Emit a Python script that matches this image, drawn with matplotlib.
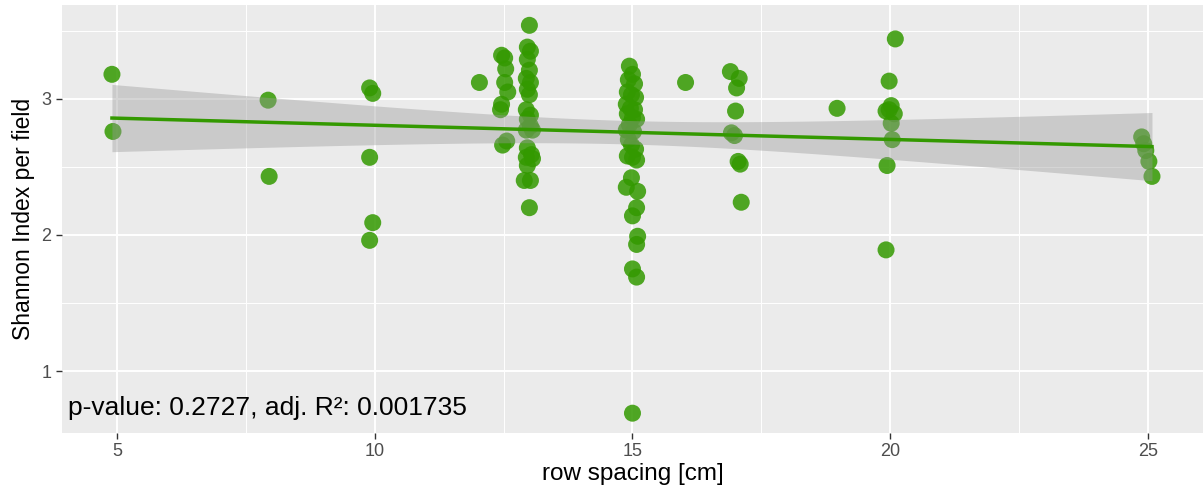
import numpy as np
import matplotlib.pyplot as plt

plt.rcParams['font.family'] = ['Liberation Sans', 'DejaVu Sans']

# row spacing [cm] (with the small jitter seen in the picture) and Shannon index
spacing_5 = [4.90, 4.92]
shannon_5 = [3.18, 2.76]
spacing_8 = [7.93, 7.95]
shannon_8 = [2.99, 2.43]
spacing_10 = [9.90, 9.96, 9.90, 9.96, 9.90]
shannon_10 = [3.08, 3.04, 2.57, 2.09, 1.96]
spacing_12 = [12.03, 12.46, 12.52, 12.54, 12.52, 12.58, 12.46, 12.44, 12.56, 12.48]
shannon_12 = [3.12, 3.32, 3.30, 3.22, 3.12, 3.05, 2.96, 2.92, 2.69, 2.66]
spacing_13 = [13.00, 12.96, 13.02, 12.96, 13.00, 12.94, 13.02, 12.96, 13.00, 12.94,
              13.02, 12.96, 13.02, 12.94, 13.06, 12.96, 13.04, 12.94, 13.06, 12.96,
              12.90, 13.02, 13.00]
shannon_13 = [3.54, 3.38, 3.35, 3.29, 3.21, 3.15, 3.12, 3.07, 3.03, 2.92,
              2.88, 2.85, 2.80, 2.77, 2.77, 2.64, 2.59, 2.57, 2.56, 2.51,
              2.40, 2.40, 2.20]
spacing_15 = [14.94, 15.00, 14.92, 15.04, 14.90, 14.98, 15.06, 14.88, 14.96, 15.04,
              14.90, 15.00, 15.08, 14.94, 14.88, 15.02, 14.92, 14.98, 15.06, 14.90,
              15.00, 15.08, 14.98, 14.88, 15.10, 15.08, 15.00, 15.10, 15.08, 15.00,
              15.08, 15.00]
shannon_15 = [3.24, 3.18, 3.14, 3.11, 3.05, 3.03, 3.01, 2.96, 2.93, 2.92,
              2.89, 2.86, 2.85, 2.81, 2.77, 2.76, 2.70, 2.66, 2.63, 2.58,
              2.57, 2.55, 2.42, 2.35, 2.32, 2.20, 2.14, 1.99, 1.93, 1.75,
              1.69, 0.69]
spacing_17 = [16.03, 16.90, 17.07, 17.02, 17.00, 16.92, 16.98, 17.05, 17.09, 17.11, 18.97]
shannon_17 = [3.12, 3.20, 3.15, 3.08, 2.91, 2.75, 2.73, 2.54, 2.52, 2.24, 2.93]
spacing_20 = [20.10, 19.98, 20.02, 19.92, 20.08, 19.98, 20.02, 20.04, 19.94, 19.92]
shannon_20 = [3.44, 3.13, 2.95, 2.91, 2.89, 2.92, 2.82, 2.70, 2.51, 1.89]
spacing_25 = [24.88, 24.92, 24.96, 25.02, 25.08]
shannon_25 = [2.72, 2.67, 2.62, 2.54, 2.43]

x_ticks = [5, 10, 15, 20, 25]
y_ticks = [1, 2, 3]
stats_label = "p-value: 0.2727, adj. R²: 0.001735"

x = np.array(spacing_5 + spacing_8 + spacing_10 + spacing_12 + spacing_13
             + spacing_15 + spacing_17 + spacing_20 + spacing_25)
y = np.array(shannon_5 + shannon_8 + shannon_10 + shannon_12 + shannon_13
             + shannon_15 + shannon_17 + shannon_20 + shannon_25)

# linear fit with 95% confidence band
n = len(x)
slope, intercept = np.polyfit(x, y, 1)
resid = y - (slope * x + intercept)
s = np.sqrt(np.sum(resid ** 2) / (n - 2))
sxx = np.sum((x - x.mean()) ** 2)
line_x = np.linspace(x.min(), x.max(), 100)
line_y = slope * line_x + intercept
se = s * np.sqrt(1 / n + (line_x - x.mean()) ** 2 / sxx)
t = 1.98

fig = plt.figure(figsize=(12.03, 4.91), dpi=100)
ax = fig.add_axes([0.0515, 0.118, 0.9485, 0.872])
ax.set_facecolor('#EBEBEB')
for sp in ax.spines.values():
    sp.set_visible(False)

ax.set_xticks(x_ticks)
ax.set_yticks(y_ticks)
ax.set_xticks([7.5, 12.5, 17.5, 22.5], minor=True)
ax.set_yticks([1.5, 2.5, 3.5], minor=True)
ax.grid(which='major', color='white', linewidth=1.4)
ax.grid(which='minor', color='white', linewidth=0.7)
ax.set_axisbelow(True)
ax.tick_params(which='major', length=4, color='#333333', labelcolor='#4D4D4D',
               labelsize=13, width=1)
ax.tick_params(which='minor', length=0)

ax.scatter(x, y, s=150, color='#339900', alpha=0.85, edgecolors='none', zorder=2)
ax.fill_between(line_x, line_y - t * se, line_y + t * se, color='#999999',
                alpha=0.4, linewidth=0, zorder=3)
ax.plot(line_x, line_y, color='#339900', linewidth=2.5, zorder=4)

ax.text(4.05, 0.73, stats_label, fontsize=19, va='center', ha='left', color='black')

ax.set_xlim(3.93, 26.07)
ax.set_ylim(0.544, 3.69)
ax.set_xlabel('row spacing [cm]', fontsize=17.5, labelpad=2)
ax.set_ylabel('Shannon Index per field', fontsize=16.5, labelpad=5)

fig.savefig('out.png', dpi=100)
